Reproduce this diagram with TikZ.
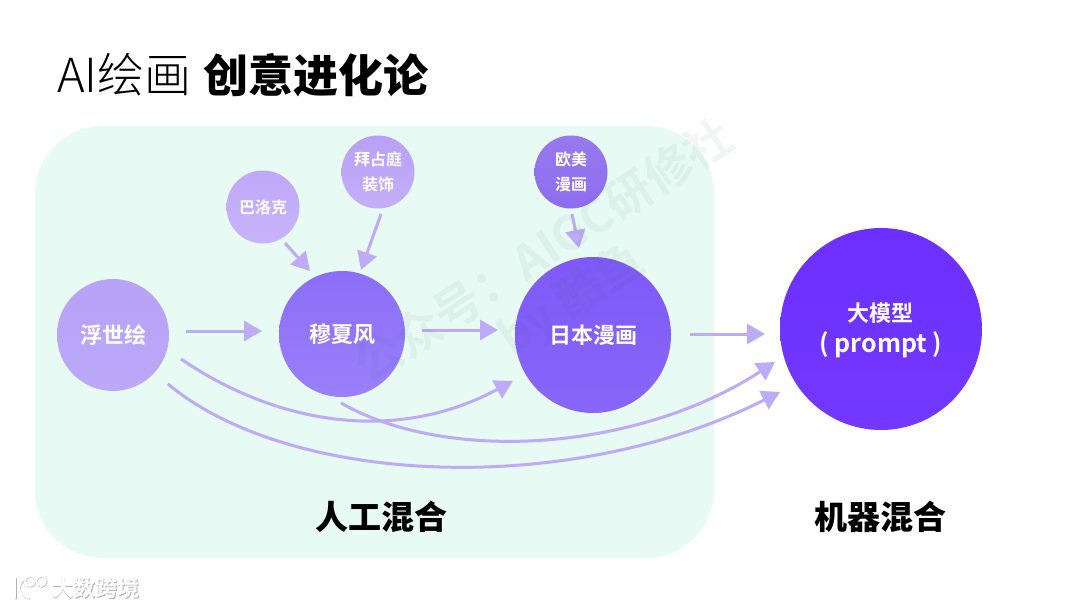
\documentclass[tikz,border=0pt]{standalone}
\usepackage{fontspec}
\usetikzlibrary{arrows.meta}
\setmainfont{Noto Sans CJK SC}
\newfontfamily\cjkl{Noto Sans CJK SC Light}
\newfontfamily\cjkb{Noto Sans CJK SC Bold}
\newfontfamily\cjkk{Noto Sans CJK SC Black}
\definecolor{arrowc}{HTML}{BEAAF6}
\definecolor{panel}{HTML}{E7FAF3}
\definecolor{wmc}{HTML}{1F6B50}
\definecolor{fuT}{HTML}{B7A3F7}\definecolor{fuB}{HTML}{BBA8F8}
\definecolor{muT}{HTML}{8B6DF8}\definecolor{muB}{HTML}{9A80FB}
\definecolor{riT}{HTML}{7F59F8}\definecolor{riB}{HTML}{8866FA}
\definecolor{daT}{HTML}{6C2FFF}\definecolor{daB}{HTML}{7338FF}
\definecolor{baT}{HTML}{BFA8F8}\definecolor{baB}{HTML}{C8B4FB}
\definecolor{byT}{HTML}{B9A0F5}\definecolor{byB}{HTML}{C4AEF8}
\definecolor{ouT}{HTML}{967AEE}\definecolor{ouB}{HTML}{8E6CF0}
\tikzset{
  x=1pt,y=-1pt,
  bub/.style={circle,inner sep=0pt,text=white,align=center,font=\cjkb\fontsize{#1}{#1}\selectfont},
  flow/.style={draw=arrowc,line width=3pt,-{Triangle[length=18pt,width=20pt]}},
  head/.style={inner sep=0pt,font=\cjkk\fontsize{33}{33}\selectfont,text=black},
  watermark/.style={inner sep=0pt,rotate=33,text=wmc,text opacity=.06,font=\cjkb\fontsize{47}{47}\selectfont},
  logotext/.style={inner sep=0pt,font=\cjkb\fontsize{22}{22}\selectfont},
  logoline/.style={draw=#1,line width=2pt,line cap=round},
}
\begin{document}
\begin{tikzpicture}
\useasboundingbox (0,0) rectangle (1080,608);
\fill[white] (0,0) rectangle (1080,608);
\fill[panel,rounded corners=68pt] (35,126) rectangle (714,558);
\node[anchor=west,inner sep=0pt] (title) at (57,75) {{\cjkl\fontsize{47}{47}\selectfont AI绘画}\hspace{12pt}{\cjkk\fontsize{45}{45}\selectfont 创意进化论}};
% nodes
\node[bub=22,minimum size=112pt,top color=fuT,bottom color=fuB] (fu) at (113,335) {浮世绘};
\node[bub=22,minimum size=126pt,top color=muT,bottom color=muB] (mu) at (342,334) {穆夏风};
\node[bub=22,minimum size=156pt,top color=riT,bottom color=riB] (ri) at (593,335) {日本漫画};
\node[bub=22,minimum size=202pt,top color=daT,bottom color=daB] (da) at (881,329) {};
\node[inner sep=0pt,text=white,font=\cjkb\fontsize{22}{22}\selectfont] (dal1) at (880,313) {大模型};
\node[inner sep=0pt,text=white,font=\cjkb\fontsize{25}{25}\selectfont] (dal2) at (881,345) {( prompt )};
\node[bub=16,minimum size=73pt,top color=baT,bottom color=baB] (ba) at (263,207) {巴洛克};
\node[bub=16,minimum size=73pt,top color=byT,bottom color=byB,execute at begin node={\setlength{\baselineskip}{25pt}}] (by) at (378,172) {拜占庭\\装饰};
\node[bub=16,minimum size=73pt,top color=ouT,bottom color=ouB,execute at begin node={\setlength{\baselineskip}{25pt}}] (ou) at (571,172) {欧美\\漫画};
% free ends
\coordinate (a1s) at (186,331); \coordinate (a1e) at (262,331);
\coordinate (a2s) at (422,330); \coordinate (a2e) at (498,330);
\coordinate (a3s) at (690,334); \coordinate (a3e) at (765,334);
\coordinate (a4s) at (285,243); \coordinate (a4e) at (310,271);
\coordinate (a5s) at (381,214); \coordinate (a5e) at (361,270);
\coordinate (a6s) at (572,214); \coordinate (a6e) at (579,248);
\coordinate (c1s) at (181,359); \coordinate (c1e) at (513,381);
\coordinate (c2s) at (341,403); \coordinate (c2e) at (775,362);
\coordinate (c3s) at (168,384); \coordinate (c3e) at (780,392);
\draw[flow] (a1s) -- (a1e);
\draw[flow] (a2s) -- (a2e);
\draw[flow] (a3s) -- (a3e);
\draw[flow] (a4s) -- (a4e);
\draw[flow] (a5s) -- (a5e);
\draw[flow] (a6s) -- (a6e);
\draw[flow] (c1s) .. controls (270,420) and (390,447) .. (c1e);
\draw[flow] (c2s) .. controls (450,465) and (640,450) .. (c2e);
\draw[flow] (c3s) .. controls (290,486) and (570,498) .. (c3e);
% section labels
\node[head] (lab1) at (381,517) {人工混合};
\node[head] (lab2) at (880,517) {机器混合};
% watermark over everything
\node[watermark] (wm1) at (543,250) {公众号：AIGC研修社};
\node[watermark] (wm2) at (572,300) {by 酷鱼};
% logo
\node[logotext,text=black!30] (logoS) at (96.7,588.7) {大数跨境};
\node[logotext,text=white] (logo) at (96,588) {大数跨境};
\draw[logoline=black!30] (15.6,578.6) -- (15.6,598.6);
\draw[logoline=black!30] (24.6,579.6) .. controls (17.6,585.6) and (17.6,594.6) .. (29.6,598.6);
\draw[logoline=black!30] (30.6,581.6) circle (5);
\draw[logoline=black!30] (41.6,581.6) circle (5);
\draw[logoline=white] (15,578) -- (15,598);
\draw[logoline=white] (24,579) .. controls (17,585) and (17,594) .. (29,598);
\draw[logoline=white] (30,581) circle (5);
\draw[logoline=white] (41,581) circle (5);
\end{tikzpicture}
\end{document}
